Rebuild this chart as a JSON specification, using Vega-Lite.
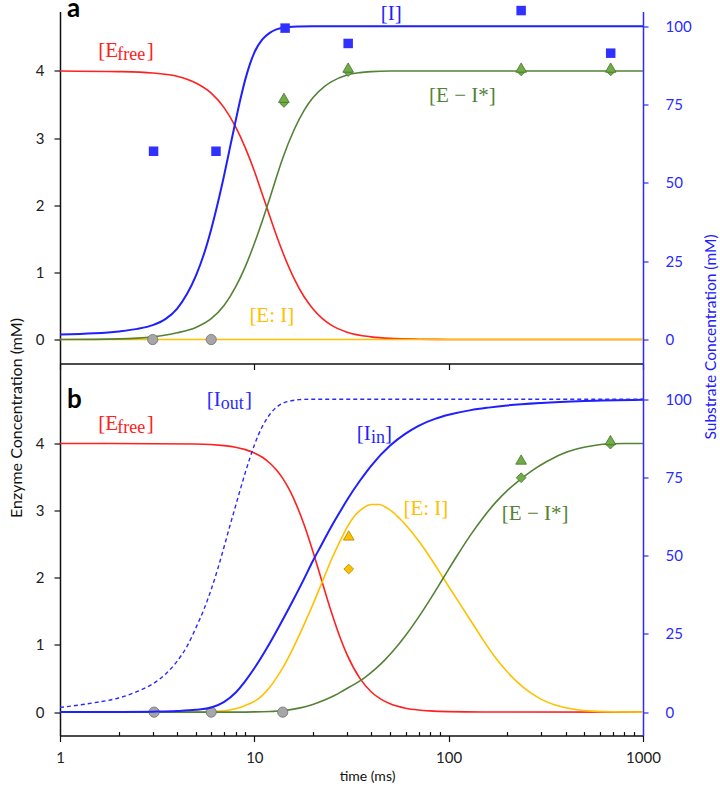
{
  "$schema": "https://vega.github.io/schema/vega-lite/v6.json",
  "description": "Enzyme and substrate concentrations over time (log scale), panels a and b.",
  "padding": {"left": 8, "top": -4.5, "right": 0, "bottom": 0},
  "spacing": 0,
  "bounds": "flush",
  "datasets": {
    "curves": [
      {"panel": "a", "series": "Efree", "t": 1, "c": 4.0},
      {"panel": "a", "series": "Efree", "t": 2, "c": 3.99},
      {"panel": "a", "series": "Efree", "t": 3, "c": 3.97},
      {"panel": "a", "series": "Efree", "t": 4, "c": 3.92},
      {"panel": "a", "series": "Efree", "t": 5, "c": 3.82},
      {"panel": "a", "series": "Efree", "t": 6, "c": 3.67},
      {"panel": "a", "series": "Efree", "t": 7, "c": 3.45},
      {"panel": "a", "series": "Efree", "t": 8, "c": 3.17},
      {"panel": "a", "series": "Efree", "t": 9, "c": 2.85},
      {"panel": "a", "series": "Efree", "t": 10, "c": 2.51},
      {"panel": "a", "series": "Efree", "t": 11, "c": 2.16},
      {"panel": "a", "series": "Efree", "t": 12, "c": 1.84},
      {"panel": "a", "series": "Efree", "t": 13, "c": 1.55},
      {"panel": "a", "series": "Efree", "t": 14, "c": 1.3},
      {"panel": "a", "series": "Efree", "t": 16, "c": 0.91},
      {"panel": "a", "series": "Efree", "t": 18, "c": 0.64},
      {"panel": "a", "series": "Efree", "t": 20, "c": 0.46},
      {"panel": "a", "series": "Efree", "t": 25, "c": 0.21},
      {"panel": "a", "series": "Efree", "t": 30, "c": 0.11},
      {"panel": "a", "series": "Efree", "t": 40, "c": 0.04},
      {"panel": "a", "series": "Efree", "t": 50, "c": 0.017},
      {"panel": "a", "series": "Efree", "t": 70, "c": 0.005},
      {"panel": "a", "series": "Efree", "t": 100, "c": 0.001},
      {"panel": "a", "series": "Efree", "t": 1000, "c": 0.0},
      {"panel": "a", "series": "EI", "t": 1, "c": 0.0},
      {"panel": "a", "series": "EI", "t": 1000, "c": 0.0},
      {"panel": "a", "series": "EIstar", "t": 1, "c": 0.0},
      {"panel": "a", "series": "EIstar", "t": 2, "c": 0.01},
      {"panel": "a", "series": "EIstar", "t": 3, "c": 0.04},
      {"panel": "a", "series": "EIstar", "t": 4, "c": 0.1},
      {"panel": "a", "series": "EIstar", "t": 5, "c": 0.18},
      {"panel": "a", "series": "EIstar", "t": 6, "c": 0.31},
      {"panel": "a", "series": "EIstar", "t": 7, "c": 0.51},
      {"panel": "a", "series": "EIstar", "t": 8, "c": 0.78},
      {"panel": "a", "series": "EIstar", "t": 9, "c": 1.09},
      {"panel": "a", "series": "EIstar", "t": 10, "c": 1.43},
      {"panel": "a", "series": "EIstar", "t": 11, "c": 1.77},
      {"panel": "a", "series": "EIstar", "t": 12, "c": 2.1},
      {"panel": "a", "series": "EIstar", "t": 13, "c": 2.42},
      {"panel": "a", "series": "EIstar", "t": 14, "c": 2.7},
      {"panel": "a", "series": "EIstar", "t": 16, "c": 3.12},
      {"panel": "a", "series": "EIstar", "t": 18, "c": 3.41},
      {"panel": "a", "series": "EIstar", "t": 20, "c": 3.6},
      {"panel": "a", "series": "EIstar", "t": 23, "c": 3.77},
      {"panel": "a", "series": "EIstar", "t": 25, "c": 3.84},
      {"panel": "a", "series": "EIstar", "t": 30, "c": 3.94},
      {"panel": "a", "series": "EIstar", "t": 35, "c": 3.975},
      {"panel": "a", "series": "EIstar", "t": 40, "c": 3.99},
      {"panel": "a", "series": "EIstar", "t": 50, "c": 4.0},
      {"panel": "a", "series": "EIstar", "t": 1000, "c": 4.0},
      {"panel": "a", "series": "I", "t": 1, "c": 1.6},
      {"panel": "a", "series": "I", "t": 1.5, "c": 2.0},
      {"panel": "a", "series": "I", "t": 2, "c": 2.6},
      {"panel": "a", "series": "I", "t": 2.5, "c": 3.4},
      {"panel": "a", "series": "I", "t": 3, "c": 4.6},
      {"panel": "a", "series": "I", "t": 3.5, "c": 6.6},
      {"panel": "a", "series": "I", "t": 4, "c": 9.8},
      {"panel": "a", "series": "I", "t": 4.5, "c": 14.5},
      {"panel": "a", "series": "I", "t": 5, "c": 20.3},
      {"panel": "a", "series": "I", "t": 5.5, "c": 27.2},
      {"panel": "a", "series": "I", "t": 6, "c": 35.2},
      {"panel": "a", "series": "I", "t": 6.5, "c": 43.8},
      {"panel": "a", "series": "I", "t": 7, "c": 52.6},
      {"panel": "a", "series": "I", "t": 7.5, "c": 61.4},
      {"panel": "a", "series": "I", "t": 8, "c": 69.6},
      {"panel": "a", "series": "I", "t": 8.5, "c": 77.0},
      {"panel": "a", "series": "I", "t": 9, "c": 83.2},
      {"panel": "a", "series": "I", "t": 9.5, "c": 88.0},
      {"panel": "a", "series": "I", "t": 10, "c": 91.6},
      {"panel": "a", "series": "I", "t": 11, "c": 95.8},
      {"panel": "a", "series": "I", "t": 12, "c": 97.9},
      {"panel": "a", "series": "I", "t": 13, "c": 99.0},
      {"panel": "a", "series": "I", "t": 14, "c": 99.5},
      {"panel": "a", "series": "I", "t": 17, "c": 99.9},
      {"panel": "a", "series": "I", "t": 20, "c": 100},
      {"panel": "a", "series": "I", "t": 1000, "c": 100},
      {"panel": "b", "series": "Efree", "t": 1, "c": 4.0},
      {"panel": "b", "series": "Efree", "t": 5, "c": 3.992},
      {"panel": "b", "series": "Efree", "t": 7, "c": 3.968},
      {"panel": "b", "series": "Efree", "t": 8, "c": 3.944},
      {"panel": "b", "series": "Efree", "t": 9, "c": 3.908},
      {"panel": "b", "series": "Efree", "t": 10, "c": 3.859},
      {"panel": "b", "series": "Efree", "t": 11, "c": 3.794},
      {"panel": "b", "series": "Efree", "t": 12, "c": 3.709},
      {"panel": "b", "series": "Efree", "t": 13, "c": 3.604},
      {"panel": "b", "series": "Efree", "t": 14, "c": 3.479},
      {"panel": "b", "series": "Efree", "t": 15, "c": 3.333},
      {"panel": "b", "series": "Efree", "t": 16, "c": 3.168},
      {"panel": "b", "series": "Efree", "t": 18, "c": 2.796},
      {"panel": "b", "series": "Efree", "t": 20, "c": 2.395},
      {"panel": "b", "series": "Efree", "t": 22, "c": 2.0},
      {"panel": "b", "series": "Efree", "t": 25, "c": 1.475},
      {"panel": "b", "series": "Efree", "t": 28, "c": 1.066},
      {"panel": "b", "series": "Efree", "t": 30, "c": 0.855},
      {"panel": "b", "series": "Efree", "t": 35, "c": 0.498},
      {"panel": "b", "series": "Efree", "t": 40, "c": 0.3},
      {"panel": "b", "series": "Efree", "t": 45, "c": 0.189},
      {"panel": "b", "series": "Efree", "t": 50, "c": 0.123},
      {"panel": "b", "series": "Efree", "t": 60, "c": 0.058},
      {"panel": "b", "series": "Efree", "t": 70, "c": 0.031},
      {"panel": "b", "series": "Efree", "t": 80, "c": 0.018},
      {"panel": "b", "series": "Efree", "t": 100, "c": 0.007},
      {"panel": "b", "series": "Efree", "t": 150, "c": 0.001},
      {"panel": "b", "series": "Efree", "t": 1000, "c": 0.0},
      {"panel": "b", "series": "EI", "t": 1, "c": 0.0},
      {"panel": "b", "series": "EI", "t": 5, "c": 0.0},
      {"panel": "b", "series": "EI", "t": 6, "c": 0.01},
      {"panel": "b", "series": "EI", "t": 7, "c": 0.02},
      {"panel": "b", "series": "EI", "t": 8, "c": 0.05},
      {"panel": "b", "series": "EI", "t": 9, "c": 0.1},
      {"panel": "b", "series": "EI", "t": 10, "c": 0.16},
      {"panel": "b", "series": "EI", "t": 11, "c": 0.25},
      {"panel": "b", "series": "EI", "t": 12, "c": 0.37},
      {"panel": "b", "series": "EI", "t": 13, "c": 0.51},
      {"panel": "b", "series": "EI", "t": 14, "c": 0.66},
      {"panel": "b", "series": "EI", "t": 16, "c": 0.98},
      {"panel": "b", "series": "EI", "t": 18, "c": 1.3},
      {"panel": "b", "series": "EI", "t": 20, "c": 1.6},
      {"panel": "b", "series": "EI", "t": 22, "c": 1.89},
      {"panel": "b", "series": "EI", "t": 25, "c": 2.28},
      {"panel": "b", "series": "EI", "t": 28, "c": 2.58},
      {"panel": "b", "series": "EI", "t": 30, "c": 2.75},
      {"panel": "b", "series": "EI", "t": 33, "c": 2.93},
      {"panel": "b", "series": "EI", "t": 36, "c": 3.03},
      {"panel": "b", "series": "EI", "t": 40, "c": 3.09},
      {"panel": "b", "series": "EI", "t": 44, "c": 3.09},
      {"panel": "b", "series": "EI", "t": 48, "c": 3.04},
      {"panel": "b", "series": "EI", "t": 52, "c": 2.97},
      {"panel": "b", "series": "EI", "t": 56, "c": 2.88},
      {"panel": "b", "series": "EI", "t": 60, "c": 2.79},
      {"panel": "b", "series": "EI", "t": 65, "c": 2.67},
      {"panel": "b", "series": "EI", "t": 70, "c": 2.55},
      {"panel": "b", "series": "EI", "t": 80, "c": 2.31},
      {"panel": "b", "series": "EI", "t": 90, "c": 2.08},
      {"panel": "b", "series": "EI", "t": 100, "c": 1.87},
      {"panel": "b", "series": "EI", "t": 115, "c": 1.6},
      {"panel": "b", "series": "EI", "t": 130, "c": 1.36},
      {"panel": "b", "series": "EI", "t": 150, "c": 1.08},
      {"panel": "b", "series": "EI", "t": 170, "c": 0.85},
      {"panel": "b", "series": "EI", "t": 200, "c": 0.6},
      {"panel": "b", "series": "EI", "t": 225, "c": 0.45},
      {"panel": "b", "series": "EI", "t": 260, "c": 0.3},
      {"panel": "b", "series": "EI", "t": 300, "c": 0.19},
      {"panel": "b", "series": "EI", "t": 350, "c": 0.11},
      {"panel": "b", "series": "EI", "t": 400, "c": 0.065},
      {"panel": "b", "series": "EI", "t": 450, "c": 0.04},
      {"panel": "b", "series": "EI", "t": 550, "c": 0.015},
      {"panel": "b", "series": "EI", "t": 700, "c": 0.004},
      {"panel": "b", "series": "EI", "t": 1000, "c": 0.0},
      {"panel": "b", "series": "EIstar", "t": 1, "c": 0.0},
      {"panel": "b", "series": "EIstar", "t": 8, "c": 0.0},
      {"panel": "b", "series": "EIstar", "t": 10, "c": 0.003},
      {"panel": "b", "series": "EIstar", "t": 12, "c": 0.01},
      {"panel": "b", "series": "EIstar", "t": 14, "c": 0.02},
      {"panel": "b", "series": "EIstar", "t": 17, "c": 0.06},
      {"panel": "b", "series": "EIstar", "t": 20, "c": 0.115},
      {"panel": "b", "series": "EIstar", "t": 23, "c": 0.18},
      {"panel": "b", "series": "EIstar", "t": 26, "c": 0.25},
      {"panel": "b", "series": "EIstar", "t": 29, "c": 0.33},
      {"panel": "b", "series": "EIstar", "t": 33, "c": 0.42},
      {"panel": "b", "series": "EIstar", "t": 37, "c": 0.515},
      {"panel": "b", "series": "EIstar", "t": 42, "c": 0.643},
      {"panel": "b", "series": "EIstar", "t": 47, "c": 0.778},
      {"panel": "b", "series": "EIstar", "t": 52, "c": 0.916},
      {"panel": "b", "series": "EIstar", "t": 60, "c": 1.14},
      {"panel": "b", "series": "EIstar", "t": 70, "c": 1.414},
      {"panel": "b", "series": "EIstar", "t": 80, "c": 1.672},
      {"panel": "b", "series": "EIstar", "t": 94, "c": 2.0},
      {"panel": "b", "series": "EIstar", "t": 110, "c": 2.32},
      {"panel": "b", "series": "EIstar", "t": 130, "c": 2.642},
      {"panel": "b", "series": "EIstar", "t": 150, "c": 2.891},
      {"panel": "b", "series": "EIstar", "t": 175, "c": 3.126},
      {"panel": "b", "series": "EIstar", "t": 200, "c": 3.298},
      {"panel": "b", "series": "EIstar", "t": 236, "c": 3.474},
      {"panel": "b", "series": "EIstar", "t": 270, "c": 3.6},
      {"panel": "b", "series": "EIstar", "t": 320, "c": 3.73},
      {"panel": "b", "series": "EIstar", "t": 380, "c": 3.84},
      {"panel": "b", "series": "EIstar", "t": 460, "c": 3.92},
      {"panel": "b", "series": "EIstar", "t": 560, "c": 3.97},
      {"panel": "b", "series": "EIstar", "t": 680, "c": 3.995},
      {"panel": "b", "series": "EIstar", "t": 800, "c": 4.0},
      {"panel": "b", "series": "EIstar", "t": 1000, "c": 4.0},
      {"panel": "b", "series": "Iin", "t": 1, "c": 0.0},
      {"panel": "b", "series": "Iin", "t": 2, "c": 0.05},
      {"panel": "b", "series": "Iin", "t": 3, "c": 0.15},
      {"panel": "b", "series": "Iin", "t": 4, "c": 0.35},
      {"panel": "b", "series": "Iin", "t": 5, "c": 0.75},
      {"panel": "b", "series": "Iin", "t": 6, "c": 1.5},
      {"panel": "b", "series": "Iin", "t": 7, "c": 3.3},
      {"panel": "b", "series": "Iin", "t": 8, "c": 6.2},
      {"panel": "b", "series": "Iin", "t": 9, "c": 10.0},
      {"panel": "b", "series": "Iin", "t": 10, "c": 14.0},
      {"panel": "b", "series": "Iin", "t": 12, "c": 22.0},
      {"panel": "b", "series": "Iin", "t": 14, "c": 29.5},
      {"panel": "b", "series": "Iin", "t": 16, "c": 36.3},
      {"panel": "b", "series": "Iin", "t": 18, "c": 42.5},
      {"panel": "b", "series": "Iin", "t": 20, "c": 48.3},
      {"panel": "b", "series": "Iin", "t": 22, "c": 53.1},
      {"panel": "b", "series": "Iin", "t": 25, "c": 59.5},
      {"panel": "b", "series": "Iin", "t": 28, "c": 64.7},
      {"panel": "b", "series": "Iin", "t": 30, "c": 67.8},
      {"panel": "b", "series": "Iin", "t": 35, "c": 74.0},
      {"panel": "b", "series": "Iin", "t": 40, "c": 78.8},
      {"panel": "b", "series": "Iin", "t": 50, "c": 85.2},
      {"panel": "b", "series": "Iin", "t": 60, "c": 89.0},
      {"panel": "b", "series": "Iin", "t": 70, "c": 91.5},
      {"panel": "b", "series": "Iin", "t": 85, "c": 93.7},
      {"panel": "b", "series": "Iin", "t": 100, "c": 95.0},
      {"panel": "b", "series": "Iin", "t": 130, "c": 96.5},
      {"panel": "b", "series": "Iin", "t": 160, "c": 97.3},
      {"panel": "b", "series": "Iin", "t": 200, "c": 98.0},
      {"panel": "b", "series": "Iin", "t": 300, "c": 98.8},
      {"panel": "b", "series": "Iin", "t": 500, "c": 99.4},
      {"panel": "b", "series": "Iin", "t": 1000, "c": 99.8},
      {"panel": "b", "series": "Iout", "t": 1, "c": 1.5},
      {"panel": "b", "series": "Iout", "t": 1.5, "c": 3.0},
      {"panel": "b", "series": "Iout", "t": 2, "c": 4.5},
      {"panel": "b", "series": "Iout", "t": 2.5, "c": 6.6},
      {"panel": "b", "series": "Iout", "t": 3, "c": 9.0},
      {"panel": "b", "series": "Iout", "t": 3.5, "c": 12.2},
      {"panel": "b", "series": "Iout", "t": 4, "c": 16.2},
      {"panel": "b", "series": "Iout", "t": 4.5, "c": 21.0},
      {"panel": "b", "series": "Iout", "t": 5, "c": 26.9},
      {"panel": "b", "series": "Iout", "t": 5.5, "c": 32.8},
      {"panel": "b", "series": "Iout", "t": 6, "c": 39.2},
      {"panel": "b", "series": "Iout", "t": 6.5, "c": 46.0},
      {"panel": "b", "series": "Iout", "t": 7, "c": 53.0},
      {"panel": "b", "series": "Iout", "t": 7.5, "c": 59.7},
      {"panel": "b", "series": "Iout", "t": 8, "c": 65.8},
      {"panel": "b", "series": "Iout", "t": 8.5, "c": 71.5},
      {"panel": "b", "series": "Iout", "t": 9, "c": 76.7},
      {"panel": "b", "series": "Iout", "t": 9.5, "c": 81.3},
      {"panel": "b", "series": "Iout", "t": 10, "c": 85.3},
      {"panel": "b", "series": "Iout", "t": 11, "c": 91.3},
      {"panel": "b", "series": "Iout", "t": 12, "c": 95.1},
      {"panel": "b", "series": "Iout", "t": 13, "c": 97.4},
      {"panel": "b", "series": "Iout", "t": 14, "c": 98.7},
      {"panel": "b", "series": "Iout", "t": 15.5, "c": 99.5},
      {"panel": "b", "series": "Iout", "t": 17, "c": 99.85},
      {"panel": "b", "series": "Iout", "t": 20, "c": 100},
      {"panel": "b", "series": "Iout", "t": 1000, "c": 100}
    ],
    "points": [
      {"panel": "a", "series": "ND", "assay": "C", "t": 3.0, "c": 0},
      {"panel": "a", "series": "ND", "assay": "C", "t": 6.0, "c": 0},
      {"panel": "a", "series": "I", "assay": "S", "t": 3.03, "c": 60.1},
      {"panel": "a", "series": "I", "assay": "S", "t": 6.35, "c": 60.1},
      {"panel": "a", "series": "I", "assay": "S", "t": 14.4, "c": 99.4},
      {"panel": "a", "series": "I", "assay": "S", "t": 30.4, "c": 94.5},
      {"panel": "a", "series": "I", "assay": "S", "t": 236, "c": 105.0},
      {"panel": "a", "series": "I", "assay": "S", "t": 682, "c": 91.4},
      {"panel": "a", "series": "EIstar", "assay": "B", "t": 14.2, "c": 3.52},
      {"panel": "a", "series": "EIstar", "assay": "B", "t": 30.4, "c": 3.98},
      {"panel": "a", "series": "EIstar", "assay": "B", "t": 236, "c": 3.99},
      {"panel": "a", "series": "EIstar", "assay": "B", "t": 682, "c": 3.99},
      {"panel": "a", "series": "EIstar", "assay": "A", "t": 14.2, "c": 3.6},
      {"panel": "a", "series": "EIstar", "assay": "A", "t": 30.4, "c": 4.05},
      {"panel": "a", "series": "EIstar", "assay": "A", "t": 236, "c": 4.05},
      {"panel": "a", "series": "EIstar", "assay": "A", "t": 682, "c": 4.05},
      {"panel": "b", "series": "ND", "assay": "C", "t": 3.05, "c": 0},
      {"panel": "b", "series": "ND", "assay": "C", "t": 6.0, "c": 0},
      {"panel": "b", "series": "ND", "assay": "C", "t": 14.0, "c": 0},
      {"panel": "b", "series": "EI", "assay": "B", "t": 30.6, "c": 2.13},
      {"panel": "b", "series": "EI", "assay": "A", "t": 30.6, "c": 2.63},
      {"panel": "b", "series": "EIstar", "assay": "B", "t": 236, "c": 3.49},
      {"panel": "b", "series": "EIstar", "assay": "B", "t": 680, "c": 3.99},
      {"panel": "b", "series": "EIstar", "assay": "A", "t": 236, "c": 3.76},
      {"panel": "b", "series": "EIstar", "assay": "A", "t": 680, "c": 4.05}
    ],
    "labels": [
      {"panel": "a", "series": "Efree", "piece": "lead", "text": "[E", "t": 1.574, "c": 4.2},
      {"panel": "a", "series": "Efree", "piece": "sub", "text": "free", "t": 1.972, "c": 4.2},
      {"panel": "a", "series": "Efree", "piece": "tail", "text": "]", "t": 2.794, "c": 4.2},
      {"panel": "a", "series": "I", "piece": "lead", "text": "[I]", "t": 44.7, "c": 4.765},
      {"panel": "a", "series": "EIstar", "piece": "lead", "text": "[E − I*]", "t": 79.3, "c": 3.538},
      {"panel": "a", "series": "EI", "piece": "lead", "text": "[E: I]", "t": 9.43, "c": 0.262},
      {"panel": "a", "series": "tag", "piece": "tag", "text": "a", "t": 1.086, "c": 4.804},
      {"panel": "b", "series": "Efree", "piece": "lead", "text": "[E", "t": 1.574, "c": 4.2},
      {"panel": "b", "series": "Efree", "piece": "sub", "text": "free", "t": 1.972, "c": 4.2},
      {"panel": "b", "series": "Efree", "piece": "tail", "text": "]", "t": 2.794, "c": 4.2},
      {"panel": "b", "series": "Iout", "piece": "lead", "text": "[I", "t": 5.69, "c": 4.55},
      {"panel": "b", "series": "Iout", "piece": "sub", "text": "out", "t": 6.72, "c": 4.55},
      {"panel": "b", "series": "Iout", "piece": "tail", "text": "]", "t": 8.96, "c": 4.55},
      {"panel": "b", "series": "Iin", "piece": "lead", "text": "[I", "t": 33.65, "c": 4.052},
      {"panel": "b", "series": "Iin", "piece": "sub", "text": "in", "t": 39.9, "c": 4.052},
      {"panel": "b", "series": "Iin", "piece": "tail", "text": "]", "t": 47.07, "c": 4.052},
      {"panel": "b", "series": "EI", "piece": "lead", "text": "[E: I]", "t": 58.5, "c": 2.936},
      {"panel": "b", "series": "EIstar", "piece": "lead", "text": "[E − I*]", "t": 187.7, "c": 2.862},
      {"panel": "b", "series": "tag", "piece": "tag", "text": "b", "t": 1.086, "c": 4.524}
    ]
  },
  "vconcat": [
    {
      "width": 583,
      "height": 352,
      "encoding": {
        "x": {
          "field": "t",
          "type": "quantitative",
          "scale": {"type": "log", "domain": [1, 1000], "nice": false},
          "axis": {"values": [1, 10, 100, 1000], "labels": false, "title": null, "tickSize": 6}
        }
      },
      "layer": [
        {
          "encoding": {
            "y": {
              "field": "c",
              "type": "quantitative",
              "scale": {"domain": [-0.357, 4.885], "nice": false, "zero": false},
              "axis": {
                "orient": "left",
                "values": [0, 1, 2, 3, 4],
                "tickSize": 6,
                "labelPadding": 10,
                "title": "Enzyme Concentration (mM)",
                "titleFontSize": 16,
                "titleAngle": 270,
                "titleAlign": "center",
                "titleBaseline": "bottom",
                "titleX": -36,
                "titleY": 406
              }
            }
          },
          "layer": [
            {
              "data": {"name": "curves"},
              "transform": [{"filter": "datum.panel == 'a' && (datum.series == 'Efree' || datum.series == 'EI' || datum.series == 'EIstar')"}],
              "mark": {"type": "line", "interpolate": "monotone", "strokeWidth": 1.6},
              "encoding": {"color": {"field": "series", "type": "nominal", "scale": {"domain": ["Efree", "EI", "EIstar", "I", "Iin", "Iout"], "range": ["#ff2020", "#ffc000", "#548235", "#1f1fff", "#1f1fff", "#2a2aff"]}, "legend": null}}
            },
            {
              "data": {"name": "labels"},
              "transform": [{"filter": "datum.panel == 'a' && (datum.piece == 'lead' || datum.piece == 'tail')"}],
              "mark": {"type": "text", "align": "left", "baseline": "alphabetic", "font": "Liberation Serif", "fontSize": 21},
              "encoding": {"text": {"field": "text"}, "color": {"field": "series", "type": "nominal", "legend": null}}
            },
            {
              "data": {"name": "labels"},
              "transform": [{"filter": "datum.panel == 'a' && datum.piece == 'sub'"}],
              "mark": {"type": "text", "align": "left", "baseline": "alphabetic", "font": "Liberation Serif", "fontSize": 18, "dy": 3},
              "encoding": {"text": {"field": "text"}, "color": {"field": "series", "type": "nominal", "legend": null}}
            },
            {
              "data": {"name": "labels"},
              "transform": [{"filter": "datum.panel == 'a' && datum.piece == 'tag'"}],
              "mark": {"type": "text", "align": "left", "baseline": "alphabetic", "font": "Lato", "fontWeight": "bold", "fontSize": 26, "color": "#000000"},
              "encoding": {"text": {"field": "text"}}
            },
            {
              "data": {"name": "points"},
              "transform": [{"filter": "datum.panel == 'a' && datum.series == 'ND'"}],
              "mark": {"type": "circle", "size": 105, "fill": "#a6a6a6", "stroke": "#6e6e6e", "strokeWidth": 0.8, "opacity": 1}
            },
            {
              "data": {"name": "points"},
              "transform": [{"filter": "datum.panel == 'a' && datum.assay == 'B'"}],
              "mark": {"type": "point", "shape": "diamond", "filled": true, "size": 70, "fill": "#70ad47", "stroke": "#45702b", "strokeWidth": 0.8, "opacity": 1}
            },
            {
              "data": {"name": "points"},
              "transform": [{"filter": "datum.panel == 'a' && datum.assay == 'A'"}],
              "mark": {"type": "point", "shape": "triangle-up", "filled": true, "size": 115, "fill": "#70ad47", "stroke": "#45702b", "strokeWidth": 0.8, "opacity": 1}
            }
          ]
        },
        {
          "encoding": {
            "y": {
              "field": "c",
              "type": "quantitative",
              "scale": {"domain": [-7.65, 104.7], "nice": false, "zero": false},
              "axis": {
                "orient": "right",
                "values": [0, 25, 50, 75, 100],
                "tickSize": 5,
                "labelPadding": 17,
                "labelColor": "#2b2bff",
                "tickColor": "#2b2bff",
                "domainColor": "#2b2bff",
                "title": "Substrate Concentration (mM)",
                "titleFontSize": 15.5,
                "titleColor": "#2020ff",
                "titleAngle": 270,
                "titleAlign": "center",
                "titleBaseline": "bottom",
                "titleX": 75,
                "titleY": 325
              }
            }
          },
          "layer": [
            {
              "data": {"name": "curves"},
              "transform": [{"filter": "datum.panel == 'a' && datum.series == 'I'"}],
              "mark": {"type": "line", "interpolate": "monotone", "strokeWidth": 2},
              "encoding": {"color": {"field": "series", "type": "nominal", "legend": null}}
            },
            {
              "data": {"name": "points"},
              "transform": [{"filter": "datum.panel == 'a' && datum.series == 'I'"}],
              "mark": {"type": "square", "size": 90, "color": "#3030ff", "opacity": 1}
            }
          ]
        }
      ],
      "resolve": {"scale": {"y": "independent"}}
    },
    {
      "width": 583,
      "height": 372,
      "encoding": {
        "x": {
          "field": "t",
          "type": "quantitative",
          "scale": {"type": "log", "domain": [1, 1000], "nice": false},
          "axis": {
            "values": [1, 2, 3, 4, 5, 6, 7, 8, 9, 10, 20, 30, 40, 50, 60, 70, 80, 90, 100, 200, 300, 400, 500, 600, 700, 800, 900, 1000],
            "format": "d",
            "labelExpr": "(datum.value == 1 || datum.value == 10 || datum.value == 100 || datum.value == 1000) ? datum.label : ''",
            "labelOverlap": false,
            "labelFlush": false,
            "labelPadding": 9,
            "tickSize": {"condition": {"test": "datum.value == 1 || datum.value == 10 || datum.value == 100 || datum.value == 1000", "value": 6}, "value": -4},
            "title": "time (ms)",
            "titleFontSize": 14,
            "titlePadding": 4,
            "titleX": 307
          }
        }
      },
      "layer": [
        {
          "encoding": {
            "y": {
              "field": "c",
              "type": "quantitative",
              "scale": {"domain": [-0.348, 5.19], "nice": false, "zero": false},
              "axis": {"orient": "left", "values": [0, 1, 2, 3, 4], "tickSize": 6, "labelPadding": 10, "title": null}
            }
          },
          "layer": [
            {
              "data": {"name": "curves"},
              "transform": [{"filter": "datum.panel == 'b' && (datum.series == 'Efree' || datum.series == 'EI' || datum.series == 'EIstar')"}],
              "mark": {"type": "line", "interpolate": "monotone", "strokeWidth": 1.6},
              "encoding": {"color": {"field": "series", "type": "nominal", "legend": null}}
            },
            {
              "data": {"name": "labels"},
              "transform": [{"filter": "datum.panel == 'b' && (datum.piece == 'lead' || datum.piece == 'tail')"}],
              "mark": {"type": "text", "align": "left", "baseline": "alphabetic", "font": "Liberation Serif", "fontSize": 21},
              "encoding": {"text": {"field": "text"}, "color": {"field": "series", "type": "nominal", "legend": null}}
            },
            {
              "data": {"name": "labels"},
              "transform": [{"filter": "datum.panel == 'b' && datum.piece == 'sub'"}],
              "mark": {"type": "text", "align": "left", "baseline": "alphabetic", "font": "Liberation Serif", "fontSize": 18, "dy": 3},
              "encoding": {"text": {"field": "text"}, "color": {"field": "series", "type": "nominal", "legend": null}}
            },
            {
              "data": {"name": "labels"},
              "transform": [{"filter": "datum.panel == 'b' && datum.piece == 'tag'"}],
              "mark": {"type": "text", "align": "left", "baseline": "alphabetic", "font": "Lato", "fontWeight": "bold", "fontSize": 26, "color": "#000000"},
              "encoding": {"text": {"field": "text"}}
            },
            {
              "data": {"name": "points"},
              "transform": [{"filter": "datum.panel == 'b' && datum.series == 'ND'"}],
              "mark": {"type": "circle", "size": 105, "fill": "#a6a6a6", "stroke": "#6e6e6e", "strokeWidth": 0.8, "opacity": 1}
            },
            {
              "data": {"name": "points"},
              "transform": [{"filter": "datum.panel == 'b' && datum.assay == 'B'"}],
              "mark": {"type": "point", "shape": "diamond", "filled": true, "size": 95, "strokeWidth": 0.8, "opacity": 1},
              "encoding": {
                "fill": {"field": "series", "type": "nominal", "scale": {"domain": ["EIstar", "EI"], "range": ["#70ad47", "#ffc000"]}, "legend": null},
                "stroke": {"field": "series", "type": "nominal", "scale": {"domain": ["EIstar", "EI"], "range": ["#45702b", "#b08400"]}, "legend": null}
              }
            },
            {
              "data": {"name": "points"},
              "transform": [{"filter": "datum.panel == 'b' && datum.assay == 'A'"}],
              "mark": {"type": "point", "shape": "triangle-up", "filled": true, "size": 115, "strokeWidth": 0.8, "opacity": 1},
              "encoding": {
                "fill": {"field": "series", "type": "nominal", "scale": {"domain": ["EIstar", "EI"], "range": ["#70ad47", "#ffc000"]}, "legend": null},
                "stroke": {"field": "series", "type": "nominal", "scale": {"domain": ["EIstar", "EI"], "range": ["#45702b", "#b08400"]}, "legend": null}
              }
            }
          ]
        },
        {
          "encoding": {
            "y": {
              "field": "c",
              "type": "quantitative",
              "scale": {"domain": [-7.47, 111.4], "nice": false, "zero": false},
              "axis": {
                "orient": "right",
                "values": [0, 25, 50, 75, 100],
                "tickSize": 5,
                "labelPadding": 17,
                "labelColor": "#2b2bff",
                "tickColor": "#2b2bff",
                "domainColor": "#2b2bff",
                "title": null
              }
            }
          },
          "layer": [
            {
              "data": {"name": "curves"},
              "transform": [{"filter": "datum.panel == 'b' && datum.series == 'Iin'"}],
              "mark": {"type": "line", "interpolate": "monotone", "strokeWidth": 2},
              "encoding": {"color": {"field": "series", "type": "nominal", "legend": null}}
            },
            {
              "data": {"name": "curves"},
              "transform": [{"filter": "datum.panel == 'b' && datum.series == 'Iout'"}],
              "mark": {"type": "line", "interpolate": "monotone", "strokeWidth": 1.4, "strokeDash": [4, 3]},
              "encoding": {"color": {"field": "series", "type": "nominal", "legend": null}}
            }
          ]
        }
      ],
      "resolve": {"scale": {"y": "independent"}}
    }
  ],
  "config": {
    "font": "Lato",
    "view": {"stroke": null},
    "axis": {
      "grid": false,
      "labelFont": "Lato",
      "titleFont": "Lato",
      "labelFontSize": 15,
      "titleFontSize": 16,
      "titleFontWeight": "normal",
      "labelColor": "#222222",
      "titleColor": "#111111",
      "domainColor": "#111111",
      "tickColor": "#111111",
      "domainWidth": 1.5,
      "tickWidth": 1.2
    }
  }
}
